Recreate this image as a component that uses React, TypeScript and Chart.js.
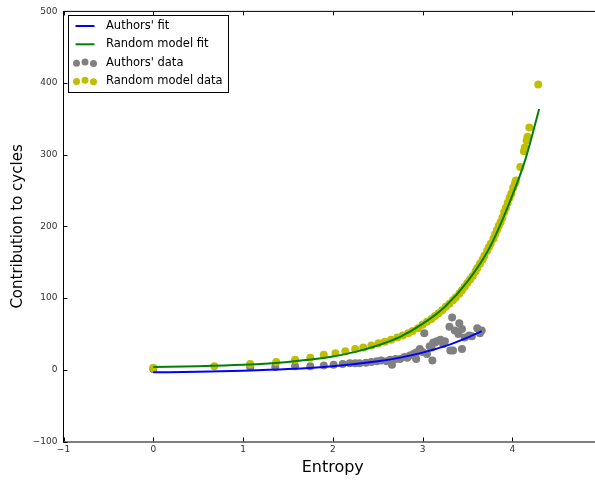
import React, { useEffect, useRef } from "react";
import { Chart, registerables } from "chart.js";

Chart.register(...registerables);

// ---- data ----
const authorsFitX = [0, 0.5, 1.0, 1.5, 2.0, 2.5, 2.75, 3.0, 3.25, 3.5, 3.66];
const authorsFitY = [-3.5, -2.7, -1.3, 1, 5, 11.9, 17, 24, 33, 45, 54];

const randomFitX = [0, 0.5, 1.0, 1.5, 2.0, 2.25, 2.5, 2.75, 3.0, 3.25, 3.5, 3.75, 4.0, 4.15, 4.3];
const randomFitY = [4, 5, 7, 11, 18.5, 25, 34, 46, 64, 88, 123, 171, 243, 295, 364];

const authorsDataX = [
  0.0, 1.08, 1.36, 1.58, 1.75, 1.9, 2.01, 2.11, 2.19, 2.25, 2.3, 2.37, 2.43, 2.49, 2.54, 2.6, 2.64,
  2.66, 2.7, 2.75, 2.8, 2.83, 2.86, 2.9, 2.93, 2.93, 2.97, 3.0, 3.02, 3.05, 3.08, 3.1, 3.11, 3.12,
  3.14, 3.16, 3.2, 3.23, 3.25, 3.3, 3.31, 3.33, 3.34, 3.36, 3.4, 3.41, 3.44, 3.44, 3.47, 3.52, 3.55,
  3.61, 3.64, 3.66,
];
const authorsDataY = [
  1, 3.5, 4, 5, 5, 6, 7, 8, 9, 9, 9, 10, 11, 12, 13, 12, 14, 7, 15, 15, 18, 17, 20, 22, 24, 15, 29,
  25, 51, 22, 33, 31, 13, 38, 38, 40, 42, 36, 40, 60, 27, 73, 27, 55, 50, 65, 57, 29, 45, 48, 47, 58,
  51, 55,
];

const randomDataX = [
  0.0, 0.68, 1.08, 1.37, 1.58, 1.75, 1.9, 2.03, 2.14, 2.25, 2.34, 2.43, 2.51, 2.58, 2.65, 2.72, 2.78,
  2.84, 2.89, 2.95, 3.0, 3.05, 3.1, 3.14, 3.18, 3.22, 3.26, 3.3, 3.34, 3.37, 3.41, 3.44, 3.47, 3.5,
  3.53, 3.56, 3.59, 3.61, 3.64, 3.67, 3.69, 3.72, 3.74, 3.76, 3.79, 3.81, 3.83, 3.85, 3.87, 3.89,
  3.91, 3.93, 3.95, 3.97, 3.99, 4.01, 4.03, 4.04, 4.09, 4.13, 4.14, 4.16, 4.17, 4.19, 4.29,
];
const randomDataY = [
  3, 5, 8, 11, 14, 17, 21, 23, 26, 29, 31, 34, 37, 39, 42, 45, 48, 51, 54, 58, 63, 67, 71, 75, 79,
  83, 88, 92, 97, 101, 106, 111, 116, 121, 126, 131, 137, 142, 148, 154, 159, 166, 171, 176, 183,
  189, 195, 201, 206, 212, 220, 226, 233, 240, 246, 254, 260, 264, 283, 305, 310, 320, 325, 338, 398,
];

const xTicks = [-1, 0, 1, 2, 3, 4, 5];
const yTicks = [-100, 0, 100, 200, 300, 400, 500];

const legendLabels = ["Authors' fit", "Random model fit", "Authors' data", "Random model data"];
const xTitle = "Entropy";
const yTitle = "Contribution to cycles";

const BLUE = "#0000ff";
const GREEN = "#008000";
const GREY = "#808080";
const YELLOW = "#bfbf00";
const FONT = "'DejaVu Sans', sans-serif";

const pts = (xs: number[], ys: number[]) => xs.map((x, i) => ({ x, y: ys[i] }));
const fmt = (v: number) => String(v).replace("-", "\u2212");

const framePlugin = {
  id: "frame",
  afterDatasetsDraw(chart: any) {
    const { ctx, chartArea: a, scales } = chart;
    ctx.save();
    ctx.strokeStyle = "#000";
    ctx.lineWidth = 1;
    ctx.beginPath();
    ctx.moveTo(a.left, a.top);
    ctx.lineTo(a.right, a.top);
    ctx.moveTo(a.left, a.bottom + 0.5);
    ctx.lineTo(a.right, a.bottom + 0.5);
    ctx.stroke();
    ctx.beginPath();
    ctx.moveTo(a.left, a.top);
    ctx.lineTo(a.left, a.bottom + 1);
    ctx.stroke();
    ctx.beginPath();
    for (const v of xTicks) {
      const px = Math.round(scales.x.getPixelForValue(v)) + 0.5;
      ctx.moveTo(px, a.bottom);
      ctx.lineTo(px, a.bottom - 4);
      ctx.moveTo(px, a.top);
      ctx.lineTo(px, a.top + 4);
    }
    for (const v of yTicks) {
      const py = Math.round(scales.y.getPixelForValue(v)) + 0.5;
      ctx.moveTo(a.left, py);
      ctx.lineTo(a.left + 4, py);
      ctx.moveTo(a.right, py);
      ctx.lineTo(a.right - 4, py);
    }
    ctx.stroke();
    ctx.restore();
  },
};

const legendPlugin = {
  id: "customLegend",
  afterDraw(chart: any) {
    const { ctx } = chart;
    ctx.save();
    ctx.fillStyle = "#fff";
    ctx.fillRect(68.5, 15.5, 160, 77);
    ctx.strokeStyle = "#000";
    ctx.lineWidth = 1;
    ctx.strokeRect(68.5, 15.5, 160, 77);
    const rows = [26, 44.3, 62.7, 81];
    const kinds = [
      { type: "line", color: BLUE },
      { type: "line", color: GREEN },
      { type: "dots", color: GREY },
      { type: "dots", color: YELLOW },
    ];
    kinds.forEach((k, i) => {
      const y = rows[i];
      if (k.type === "line") {
        ctx.strokeStyle = k.color;
        ctx.lineWidth = 2;
        ctx.beginPath();
        ctx.moveTo(75.5, y);
        ctx.lineTo(94.5, y);
        ctx.stroke();
      } else {
        ctx.fillStyle = k.color;
        const dx = [76.5, 85, 93.5];
        const dy = [0.5, -0.8, 0.8];
        dx.forEach((x, j) => {
          ctx.beginPath();
          ctx.arc(x, y + dy[j], 3.5, 0, Math.PI * 2);
          ctx.fill();
        });
      }
      ctx.fillStyle = "#000";
      ctx.font = `11.5px ${FONT}`;
      ctx.textBaseline = "middle";
      ctx.textAlign = "left";
      ctx.fillText(legendLabels[i], 106, y);
    });
    ctx.restore();
  },
};

export default function App() {
  const ref = useRef<HTMLCanvasElement | null>(null);

  useEffect(() => {
    if (!ref.current) return;
    const chart = new Chart(ref.current, {
      type: "scatter",
      data: {
        datasets: [
          {
            label: legendLabels[0],
            data: pts(authorsFitX, authorsFitY),
            showLine: true,
            borderColor: BLUE,
            borderWidth: 2,
            pointRadius: 0,
            cubicInterpolationMode: "monotone",
            order: 0,
          },
          {
            label: legendLabels[1],
            data: pts(randomFitX, randomFitY),
            showLine: true,
            borderColor: GREEN,
            borderWidth: 2,
            pointRadius: 0,
            cubicInterpolationMode: "monotone",
            order: 0,
          },
          {
            label: legendLabels[2],
            data: pts(authorsDataX, authorsDataY),
            backgroundColor: GREY,
            borderWidth: 0,
            pointRadius: 4,
            order: 2,
          },
          {
            label: legendLabels[3],
            data: pts(randomDataX, randomDataY),
            backgroundColor: YELLOW,
            borderWidth: 0,
            pointRadius: 4,
            order: 1,
          },
        ] as any,
      },
      options: {
        animation: false,
        responsive: false,
        devicePixelRatio: 1,
        layout: { padding: { top: 10, right: 8, left: 0, bottom: 0 } },
        plugins: { legend: { display: false }, tooltip: { enabled: false } },
        scales: {
          x: {
            type: "linear",
            min: -1,
            max: 5,
            afterFit: (s: any) => {
              s.height = 39.5;
            },
            afterBuildTicks: (s: any) => {
              s.ticks = xTicks.map((v) => ({ value: v }));
            },
            grid: { display: false, drawTicks: false },
            border: { display: false },
            ticks: {
              padding: 3,
              color: "#333",
              font: { family: FONT, size: 9 },
              callback: (v: any) => fmt(Number(v)),
              maxRotation: 0,
              autoSkip: false,
            },
            title: {
              display: true,
              text: xTitle,
              color: "#000",
              font: { family: FONT, size: 16, lineHeight: 1.2 },
              padding: { top: 0, bottom: 3.4 },
            },
          },
          y: {
            type: "linear",
            min: -100,
            max: 500,
            afterFit: (s: any) => {
              s.width = 63.5;
            },
            afterBuildTicks: (s: any) => {
              s.ticks = yTicks.map((v) => ({ value: v }));
            },
            grid: { display: false, drawTicks: false },
            border: { display: false },
            ticks: {
              padding: 6,
              color: "#333",
              font: { family: FONT, size: 9 },
              callback: (v: any) => fmt(Number(v)),
              autoSkip: false,
            },
            title: {
              display: true,
              text: yTitle,
              color: "#000",
              font: { family: FONT, size: 15, lineHeight: 1.2 },
              padding: { top: 9, bottom: 0 },
            },
          },
        },
      },
      plugins: [framePlugin, legendPlugin],
    });
    return () => chart.destroy();
  }, []);

  return (
    <div
      style={{
        position: "fixed",
        left: 0,
        top: 0,
        width: 595,
        height: 481,
        overflow: "hidden",
        background: "#fff",
      }}
    >
      <canvas ref={ref} width={610} height={481} style={{ width: 610, height: 481, display: "block" }} />
    </div>
  );
}
